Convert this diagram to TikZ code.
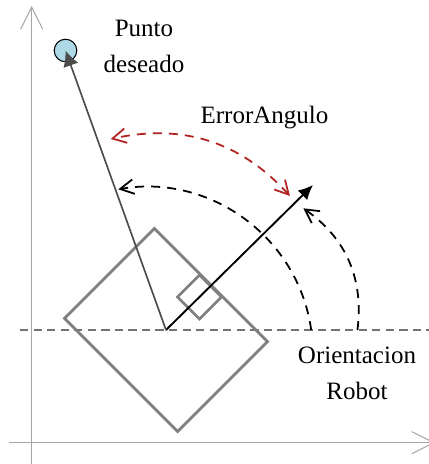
\documentclass[tikz,border=0pt]{standalone}
\usepackage{fontspec}
\setmainfont{Liberation Serif}
\usetikzlibrary{arrows.meta}
\definecolor{errred}{RGB}{178,34,34}
\definecolor{tgtblue}{RGB}{173,216,230}

\begin{document}
\begin{tikzpicture}[x=0.48pt, y=0.48pt, font=\fontsize{12}{17.3}\selectfont,
  axis/.style={black!35, line width=0.5pt, -{Straight Barb[length=10.6pt, width=10.6pt]}},
  body/.style={draw=black!50, line width=1.3pt, rectangle, inner sep=0pt, rotate=45},
  sweep/.style={dash pattern=on 4.3pt off 3.4pt, line width=0.85pt, -{Straight Barb[length=6.5pt, width=7pt]}}]
\useasboundingbox (0,0) rectangle (429,464);
% ejes
\coordinate (x0) at (9.3,21.3);
\coordinate (x1) at (435,21.3);
\coordinate (y0) at (31.7,-8);
\coordinate (y1) at (31.7,458);
\draw[axis] (x0) -- (x1);
\draw[axis] (y0) -- (y1);
% referencia horizontal
\coordinate (l0) at (20,134);
\coordinate (l1) at (432,134);
\draw[black!55, line width=0.6pt, dash pattern=on 4pt off 2.5pt] (l0) -- (l1);
% robot
\coordinate (ori) at (166,134);
\node[body, minimum width=61pt, minimum height=76.8pt] (robot) at (ori) {};
\node[body, minimum size=14.9pt] (sensor) at (199.5,167) {};
% arcos
\coordinate (s1) at (311.2,134);
\coordinate (e1) at (118.3,274.7);
\draw[sweep] (s1) to[bend right=46] (e1);
\coordinate (s2) at (357.5,134);
\coordinate (e2) at (303.3,255.7);
\draw[sweep] (s2) to[bend right=31] (e2);
\coordinate (r1) at (290,268);
\coordinate (r2) at (110.7,325);
\draw[sweep, errred, {Straight Barb[length=6.5pt, width=7pt]}-{Straight Barb[length=6.5pt, width=7pt]}] (r1) to[bend right=30] (r2);
% flechas
\coordinate (head) at (313,279);
\draw[line width=0.9pt, -{Latex[length=7pt, width=6.5pt]}] (ori) -- (head);
\node[circle, draw, fill=tgtblue, line width=0.5pt, inner sep=0pt, minimum size=10.85pt] (target) at (65.5,413.5) {};
\draw[black!70, line width=0.8pt, -{Latex[length=7.5pt, width=7.5pt]}] (ori) -- (target.center);
% textos
\node[align=center] (punto) at (144,418) {Punto\\deseado};
\node (error) at (264.5,346) {ErrorAngulo};
\node[align=center] (orient) at (357,91) {Orientacion\\Robot};
\end{tikzpicture}
\end{document}
